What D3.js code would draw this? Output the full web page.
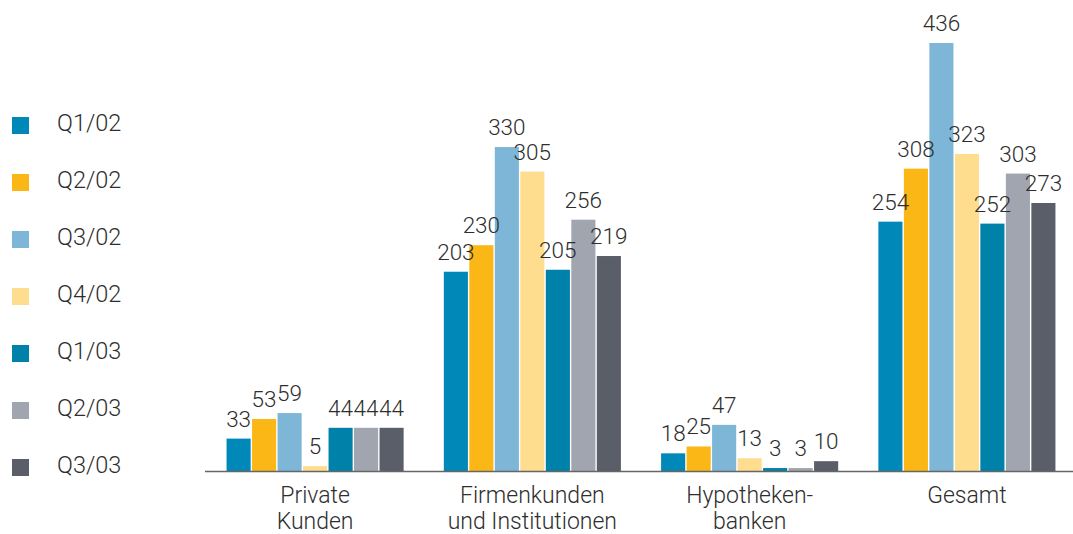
<!DOCTYPE html>
<html>
<head>
<meta charset="utf-8">
<title></title>
<script src="https://d3js.org/d3.v7.min.js"></script>
<style>
	body { margin: 0; background: #fff; }
	text { font-family: Roboto, "Liberation Sans", sans-serif; font-weight: 300; fill: #2e2e2e; }
</style>
</head>
<body>
<svg width="1073" height="534"></svg>
<script>
	var categories = [["Private", "Kunden"], ["Firmenkunden", "und Institutionen"], ["Hypotheken-", "banken"], ["Gesamt"]];
	var series = ["Q1/02", "Q2/02", "Q3/02", "Q4/02", "Q1/03", "Q2/03", "Q3/03"];
	var colors = ["#0088b9", "#fbb715", "#7db6d7", "#fedd8f", "#0081a9", "#a1a5b0", "#5a5e69"];

	// values per category, one per series
	var privateKunden = [33, 53, 59, 5, 44, 44, 44];
	var firmenkunden = [203, 230, 330, 305, 205, 256, 219];
	var hypotheken = [18, 25, 47, 13, 3, 3, 10];
	var gesamt = [254, 308, 436, 323, 252, 303, 273];
	var values = [privateKunden, firmenkunden, hypotheken, gesamt];

	var svg = d3.select("svg");

	var x0 = d3.scaleBand()
		.domain(d3.range(categories.length))
		.range([207, 1075])
		.paddingInner(0.185)
		.paddingOuter(0.09);

	var x1 = d3.scaleBand()
		.domain(series)
		.range([0, x0.bandwidth()])
		.paddingInner(0.055);

	var y = d3.scaleLinear().domain([0, 436]).range([471, 43]);

	var groups = svg.selectAll("g.group")
		.data(values)
		.enter().append("g")
		.attr("class", "group")
		.attr("transform", function(d, i) { return "translate(" + x0(i) + ",0)"; });

	groups.selectAll("rect")
		.data(function(d) { return d; })
		.enter().append("rect")
		.attr("x", function(d, i) { return x1(series[i]); })
		.attr("y", function(d) { return y(d); })
		.attr("width", x1.bandwidth())
		.attr("height", function(d) { return y(0) - y(d); })
		.attr("fill", function(d, i) { return colors[i]; });

	groups.selectAll("text.val")
		.data(function(d) { return d; })
		.enter().append("text")
		.attr("class", "val")
		.attr("x", function(d, i) { return x1(series[i]) + x1.bandwidth() / 2; })
		.attr("y", function(d) { return y(d) - 12; })
		.attr("text-anchor", "middle")
		.style("font-size", "22.5px")
		.text(function(d) { return d; });

	// baseline
	svg.append("line")
		.attr("x1", 205).attr("x2", 1073)
		.attr("y1", y(0) + 0.5).attr("y2", y(0) + 0.5)
		.attr("stroke", "#666")
		.attr("stroke-width", 1.5);

	// category labels
	var cat = svg.selectAll("text.cat")
		.data(categories)
		.enter().append("text")
		.attr("class", "cat")
		.attr("text-anchor", "middle")
		.style("font-size", "23px");
	cat.selectAll("tspan")
		.data(function(d, i) { return d.map(function(s) { return {s: s, i: i}; }); })
		.enter().append("tspan")
		.attr("x", function(d) { return x0(d.i) + x0.bandwidth() / 2; })
		.attr("y", function(d, j) { return 503 + j * 26; })
		.text(function(d) { return d.s; });

	// legend
	var legend = svg.selectAll("g.legend")
		.data(series)
		.enter().append("g")
		.attr("class", "legend")
		.attr("transform", function(d, i) { return "translate(0," + (125.5 + i * 57) + ")"; });
	legend.append("rect")
		.attr("x", 12).attr("y", -8.5)
		.attr("width", 17).attr("height", 17)
		.attr("fill", function(d, i) { return colors[i]; });
	legend.append("text")
		.attr("x", 57).attr("y", 5)
		.style("font-size", "23.5px")
		.text(function(d) { return d; });
</script>
</body>
</html>
